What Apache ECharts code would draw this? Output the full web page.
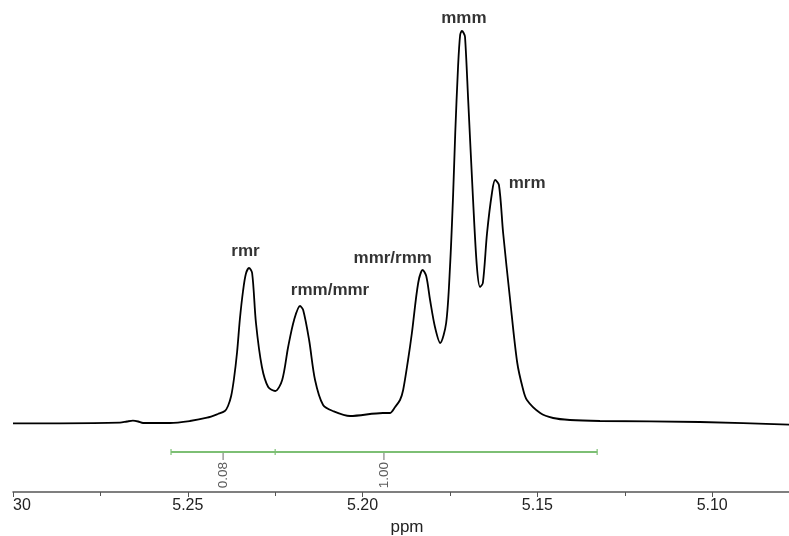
<!DOCTYPE html>
<html>
<head>
<meta charset="utf-8">
<script src="https://cdn.jsdelivr.net/npm/echarts@6/dist/echarts.min.js"></script>
<style>html,body{margin:0;padding:0;background:#fff}#c{width:789px;height:536px}</style>
</head>
<body>
<div id="c"></div>
<script>
// Spectrum trace: chemical shift (ppm) and intensity (arbitrary units)
const ppm = [5.3000,5.2866,5.2694,5.2674,5.2657,5.2642,5.2628,5.2551,5.2494,5.2445,5.2414,5.2394,5.2385,5.2376,5.2368,5.2359,5.2351,5.2342,5.2334,5.2325,5.2316,5.2305,5.2288,5.2270,5.2250,5.2230,5.2213,5.2196,5.2179,5.2170,5.2153,5.2136,5.2113,5.2085,5.2036,5.1942,5.1922,5.1907,5.1893,5.1884,5.1870,5.1859,5.1841,5.1828,5.1818,5.1807,5.1793,5.1778,5.1761,5.1750,5.1741,5.1735,5.1727,5.1721,5.1716,5.1711,5.1707,5.1698,5.1684,5.1673,5.1664,5.1656,5.1644,5.1630,5.1621,5.1610,5.1598,5.1578,5.1558,5.1542,5.1530,5.1492,5.1455,5.1407,5.1321,5.1035,5.0750];
const intensity = [0.7,0.7,1.3,2.5,3.3,2.5,1,1,3,6.3,10,13,18,28,45,72,105,133,150,156,151,101,57,37,33,44,77,104,118,114,84,44,19,13,8,11,11,17,24,34,64,91,141,154,148,124,97,81,101,157,230,291,357,389,393,391,387,324,224,157,137,141,191,231,244,239,191,124,62,36,24,11,6,4,3,2,-1];

// Peak assignments
const peakNames = ['rmr','rmm/mmr','mmr/rmm','mmm','mrm'];
const peakPpm = [5.2325,5.2179,5.1828,5.1716,5.1621];
const peakHeight = [156,118,154,393,244];

// Integration regions
const integralBounds = [5.2548,5.2250,5.1329];
const integralLabelPpm = [5.2399,5.1939];
const integralValues = ['0.08','1.00'];

// Axis tick labels
const tickValues = [5.30,5.25,5.20,5.15,5.10,5.05];
const tickLabels = ['30','5.25','5.20','5.15','5.10','5.05'];

const integralLevel = -28;
const peakOffsets = [[-3.5,-16.5],[30,-15.5],[-30,-11.5],[2,-12.5],[32,3.5]];

const chart = echarts.init(document.getElementById('c'), null, {renderer:'canvas'});
const green = '#7dbf74';
chart.setOption({
  animation:false,
  backgroundColor:'#fff',
  grid:{left:13,right:-98,top:4,bottom:44,containLabel:false,outerBoundsMode:'none'},
  xAxis:{
    type:'value', inverse:true, min:5.05, max:5.30, interval:0.05,
    axisLine:{show:true,onZero:false,lineStyle:{color:'#555',width:1.5}},
    axisTick:{show:true,length:5,lineStyle:{color:'#555',width:1}},
    minorTick:{show:true,splitNumber:2,length:4,lineStyle:{color:'#555',width:1}},
    splitLine:{show:false}, minorSplitLine:{show:false},
    axisLabel:{
      fontFamily:'Liberation Sans, Arial, sans-serif', fontSize:16, color:'#222', margin:6,
      showMinLabel:true, showMaxLabel:true, alignMaxLabel:'left', hideOverlap:false,
      formatter:function(v){
        for (let i=0;i<tickValues.length;i++){ if (Math.abs(tickValues[i]-v)<1e-6) return tickLabels[i]; }
        return v.toFixed(2);
      }
    },
    name:'ppm', nameLocation:'middle', nameGap:26,
    nameTextStyle:{fontFamily:'Liberation Sans, Arial, sans-serif', fontSize:17, color:'#222', padding:[0,86,0,0]}
  },
  yAxis:{type:'value',min:-68,max:420,show:false},
  series:[
    {
      type:'line', data:ppm.map((p,i)=>[p,intensity[i]]),
      showSymbol:false, smooth:0.3,
      lineStyle:{color:'#000',width:1.8}, silent:true
    },
    {
      type:'line', data:[[integralBounds[0],integralLevel],[integralBounds[integralBounds.length-1],integralLevel]],
      showSymbol:false, lineStyle:{color:green,width:2}, silent:true
    },
    {
      type:'scatter', data:integralBounds.map(p=>[p,integralLevel]),
      symbol:'rect', symbolSize:[1.5,6], itemStyle:{color:green}, silent:true
    },
    {
      type:'scatter', data:integralLabelPpm.map((p,i)=>({value:[p,integralLevel],name:integralValues[i]})),
      symbol:'rect', symbolSize:[1.2,8], symbolOffset:[0,4], itemStyle:{color:'#666'}, silent:true,
      label:{show:true, formatter:'{b}', position:'bottom', distance:2, rotate:90, align:'right', verticalAlign:'middle',
        fontFamily:'Liberation Sans, Arial, sans-serif', fontSize:13.5, color:'#333'}
    },
    {
      type:'scatter', symbolSize:0, silent:true,
      data:peakNames.map((n,i)=>({value:[peakPpm[i],peakHeight[i]],name:n,
        label:{offset:peakOffsets[i]}})),
      label:{show:true, formatter:'{b}', position:[0,0], align:'center', verticalAlign:'middle',
        fontFamily:'Liberation Sans, Arial, sans-serif', fontWeight:'bold', fontSize:17, color:'#000'}
    }
  ]
});
</script>
</body>
</html>
